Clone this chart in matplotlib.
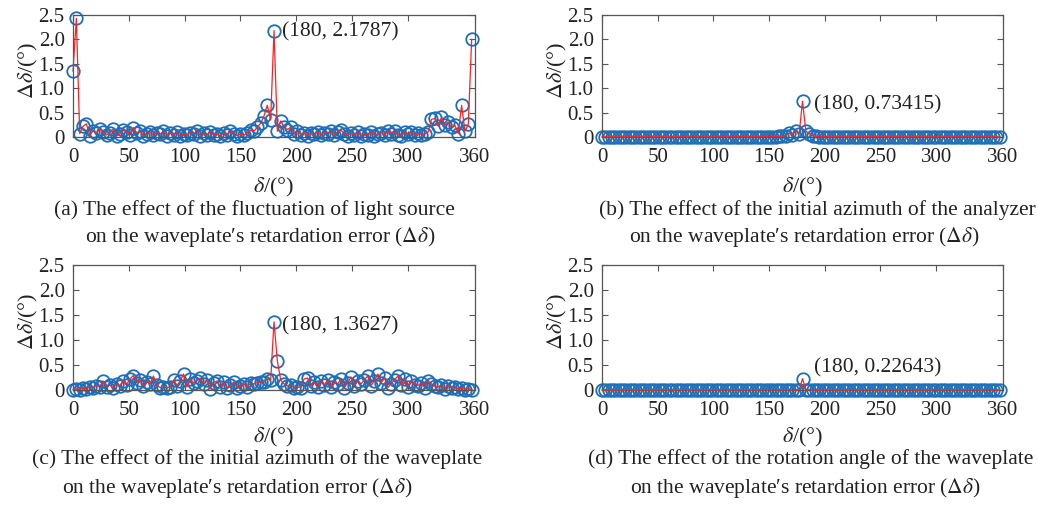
import numpy as np
import matplotlib
matplotlib.use("Agg")
import matplotlib.pyplot as plt

plt.rcParams['font.family'] = ['Liberation Serif', 'DejaVu Serif']
plt.rcParams['mathtext.fontset'] = 'stix'

# angle grid (degrees), step 3
delta_deg = np.arange(0, 360, 3)

err_light_source = [
    1.35, 2.43, 0.07, 0.22, 0.27, 0.03, 0.13, 0.08, 0.17, 0.10,
    0.04, 0.09, 0.16, 0.02, 0.06, 0.14, 0.10, 0.05, 0.19, 0.08,
    0.12, 0.03, 0.07, 0.11, 0.04, 0.09, 0.06, 0.12, 0.03, 0.08,
    0.05, 0.10, 0.02, 0.07, 0.04, 0.09, 0.06, 0.13, 0.03, 0.08,
    0.05, 0.11, 0.04, 0.06, 0.02, 0.09, 0.05, 0.12, 0.07, 0.03,
    0.06, 0.04, 0.09, 0.14, 0.12, 0.20, 0.28, 0.43, 0.65, 0.35,
    2.1787, 0.12, 0.33, 0.20, 0.15, 0.20, 0.06, 0.12, 0.05, 0.09,
    0.03, 0.08, 0.06, 0.11, 0.04, 0.09, 0.07, 0.12, 0.05, 0.10,
    0.14, 0.06, 0.03, 0.08, 0.05, 0.10, 0.02, 0.07, 0.04, 0.11,
    0.03, 0.06, 0.09, 0.04, 0.12, 0.07, 0.13, 0.05, 0.02, 0.10,
    0.06, 0.11, 0.04, 0.08, 0.05, 0.07, 0.10, 0.36, 0.38, 0.22,
    0.40, 0.25, 0.30, 0.20, 0.24, 0.07, 0.65, 0.12, 0.26, 2.00,
]

err_analyzer = [
    0.004, 0.005, 0.003, 0.006, 0.004, 0.005, 0.003, 0.004, 0.006, 0.004,
    0.005, 0.003, 0.004, 0.005, 0.006, 0.004, 0.003, 0.005, 0.004, 0.006,
    0.004, 0.005, 0.003, 0.004, 0.005, 0.004, 0.006, 0.003, 0.005, 0.004,
    0.005, 0.004, 0.006, 0.003, 0.004, 0.005, 0.004, 0.006, 0.005, 0.004,
    0.006, 0.005, 0.004, 0.007, 0.005, 0.006, 0.005, 0.007, 0.006, 0.008,
    0.007, 0.009, 0.010, 0.012, 0.020, 0.030, 0.080, 0.050, 0.130, 0.060,
    0.73415, 0.120, 0.070, 0.030, 0.012, 0.008, 0.006, 0.005, 0.004, 0.005,
    0.004, 0.005, 0.003, 0.004, 0.005, 0.004, 0.006, 0.003, 0.005, 0.004,
    0.005, 0.004, 0.006, 0.003, 0.004, 0.005, 0.004, 0.006, 0.005, 0.004,
    0.004, 0.005, 0.003, 0.006, 0.004, 0.005, 0.003, 0.004, 0.006, 0.004,
    0.005, 0.003, 0.004, 0.005, 0.006, 0.004, 0.003, 0.005, 0.004, 0.006,
    0.004, 0.005, 0.003, 0.004, 0.005, 0.004, 0.006, 0.003, 0.005, 0.004,
]

err_waveplate_azimuth = [
    0.01, 0.02, 0.01, 0.04, 0.03, 0.06, 0.05, 0.09, 0.07, 0.18,
    0.06, 0.10, 0.04, 0.13, 0.08, 0.19, 0.11, 0.22, 0.29, 0.15,
    0.21, 0.09, 0.17, 0.12, 0.28, 0.10, 0.05, 0.06, 0.04, 0.07,
    0.20, 0.09, 0.18, 0.32, 0.06, 0.22, 0.14, 0.19, 0.24, 0.12,
    0.20, 0.03, 0.15, 0.18, 0.07, 0.16, 0.04, 0.10, 0.16, 0.05,
    0.08, 0.12, 0.06, 0.14, 0.12, 0.15, 0.16, 0.17, 0.22, 0.20,
    1.3627, 0.58, 0.20, 0.12, 0.08, 0.10, 0.04, 0.06, 0.05, 0.22,
    0.24, 0.08, 0.16, 0.06, 0.18, 0.10, 0.20, 0.06, 0.17, 0.12,
    0.22, 0.05, 0.14, 0.26, 0.08, 0.18, 0.12, 0.21, 0.28, 0.09,
    0.19, 0.32, 0.15, 0.24, 0.05, 0.13, 0.21, 0.28, 0.10, 0.23,
    0.06, 0.18, 0.11, 0.09, 0.15, 0.05, 0.19, 0.12, 0.08, 0.06,
    0.10, 0.03, 0.09, 0.04, 0.06, 0.02, 0.04, 0.01, 0.03, 0.01,
]

err_rotation = [
    0.002, 0.002, 0.003, 0.002, 0.002, 0.003, 0.002, 0.002, 0.003, 0.002,
    0.002, 0.003, 0.002, 0.002, 0.003, 0.002, 0.002, 0.003, 0.002, 0.002,
    0.003, 0.002, 0.002, 0.003, 0.002, 0.002, 0.003, 0.002, 0.002, 0.003,
    0.002, 0.002, 0.003, 0.002, 0.002, 0.003, 0.002, 0.002, 0.003, 0.002,
    0.002, 0.003, 0.002, 0.002, 0.003, 0.002, 0.002, 0.003, 0.002, 0.002,
    0.003, 0.002, 0.002, 0.003, 0.002, 0.002, 0.003, 0.003, 0.004, 0.005,
    0.22643, 0.005, 0.004, 0.003, 0.002, 0.002, 0.003, 0.002, 0.002, 0.003,
    0.002, 0.002, 0.003, 0.002, 0.002, 0.003, 0.002, 0.002, 0.003, 0.002,
    0.002, 0.003, 0.002, 0.002, 0.003, 0.002, 0.002, 0.003, 0.002, 0.002,
    0.003, 0.002, 0.002, 0.003, 0.002, 0.002, 0.003, 0.002, 0.002, 0.003,
    0.002, 0.002, 0.003, 0.002, 0.002, 0.003, 0.002, 0.002, 0.003, 0.002,
    0.002, 0.003, 0.002, 0.002, 0.003, 0.002, 0.002, 0.003, 0.002, 0.002,
]

peak_x = 180
peak_labels = ['(180, 2.1787)', '(180, 0.73415)', '(180, 1.3627)', '(180, 0.22643)']

captions = [
    ['(a) The effect of the fluctuation of light source',
     'on the waveplate\u2032s retardation error ($\\Delta\\delta$)'],
    ['(b) The effect of the initial azimuth of the analyzer',
     'on the waveplate\u2032s retardation error ($\\Delta\\delta$)'],
    ['(c) The effect of the initial azimuth of the waveplate',
     'on the waveplate\u2032s retardation error ($\\Delta\\delta$)'],
    ['(d) The effect of the rotation angle of the waveplate',
     'on the waveplate\u2032s retardation error ($\\Delta\\delta$)'],
]

xticks = [0, 50, 100, 150, 200, 250, 300, 360]
yticks = [0, 0.5, 1.0, 1.5, 2.0, 2.5]
yticklabels = ['0', '0.5', '1.0', '1.5', '2.0', '2.5']

W, H = 1038, 505
fig = plt.figure(figsize=(W / 100, H / 100), dpi=100)

# axes boxes in pixels: left, top, right, bottom
boxes = [(73, 15, 475, 137), (602, 15, 1003, 137),
         (73, 265, 475, 390), (602, 265, 1003, 390)]
series = [err_light_source, err_analyzer, err_waveplate_azimuth, err_rotation]
# annotation offsets in points (dx, dy)
ann_off = [(6, -1), (8, -3), (6, -3), (8, 8)]
# caption line centers (x px) and y px
cap_pos = [[(254, 210), (260, 237)], [(817, 210), (804, 237)],
           [(257, 459), (237, 488)], [(811, 459), (805, 488)]]
xlabel_y = [187, 187, 437, 437]

blue = '#1f6fb8'
fs_tick = 15
fs_text = 15.5
fs_label = 16
spine_c = '#555555'
txt_c = '#222222'

for k in range(4):
    l, t, r, b = boxes[k]
    ax = fig.add_axes([l / W, 1 - b / H, (r - l) / W, (b - t) / H])
    y = np.array(series[k])
    ax.plot(delta_deg, y, linestyle='none', marker='o', markersize=9,
            markerfacecolor='none', markeredgecolor=blue, markeredgewidth=1.3,
            clip_on=False, zorder=2)
    ax.plot(delta_deg, y, color='#ff2020', lw=0.9, zorder=3, clip_on=False)
    ax.set_xlim(0, 360)
    ax.set_ylim(0, 2.5)
    ax.set_xticks(xticks)
    ax.set_xticklabels([str(v) for v in xticks])
    ax.set_yticks(yticks)
    ax.set_yticklabels(yticklabels)
    ax.tick_params(direction='in', top=True, right=True, length=4, width=0.8,
                   color=spine_c, labelsize=fs_tick, labelcolor=txt_c)
    ax.tick_params(axis='x', pad=8)
    ax.tick_params(axis='y', pad=6)
    for s in ax.spines.values():
        s.set_color(spine_c)
        s.set_linewidth(0.9)
    ax.set_xlabel('$\\delta$/(°)', fontsize=fs_label, color=txt_c, va='center')
    ax.xaxis.set_label_coords(0.5, -(xlabel_y[k] - b) / (b - t))
    ax.set_ylabel('$\\Delta\\delta$/(°)', fontsize=fs_label, color=txt_c, va='center')
    ax.yaxis.set_label_coords(-45 / (r - l), 0.55)
    ipk = list(delta_deg).index(peak_x)
    ax.annotate(peak_labels[k], xy=(peak_x, y[ipk]), xytext=ann_off[k],
                textcoords='offset points', ha='left', va='center',
                fontsize=fs_text, color=txt_c, zorder=5)
    for (cx, cy), line in zip(cap_pos[k], captions[k]):
        fig.text(cx / W, 1 - cy / H, line, ha='center', va='center',
                 fontsize=fs_text, color=txt_c)

fig.savefig('out.png', dpi=100, facecolor='white')
